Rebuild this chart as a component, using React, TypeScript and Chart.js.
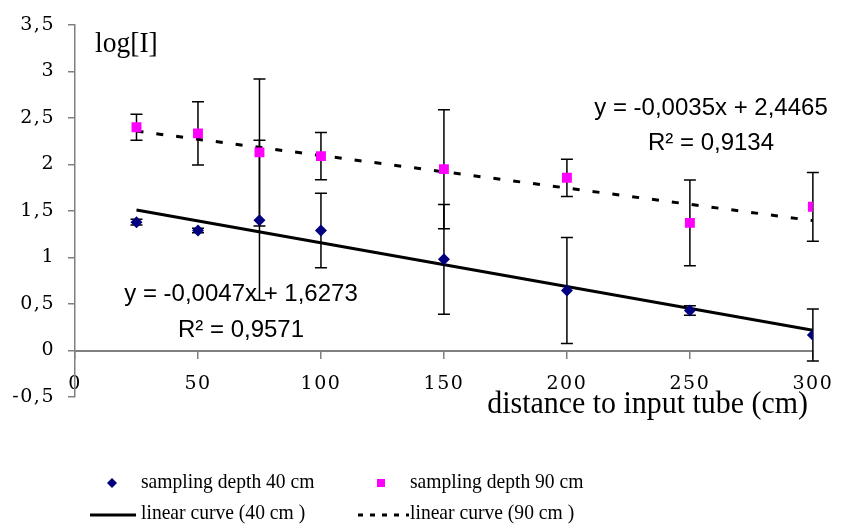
import React, { useEffect, useRef } from "react";
import { Chart, registerables } from "chart.js";

Chart.register(...registerables);

// ---- data ----
const xValues = [25, 50, 75, 100, 150, 200, 250, 300];
const depth40 = [1.38, 1.29, 1.4, 1.29, 0.98, 0.645, 0.43, 0.167];
const err40 = [0.03, 0.025, 0.86, 0.4, 0.59, 0.57, 0.05, 0.28];
const depth90 = [2.4, 2.335, 2.13, 2.09, 1.95, 1.857, 1.372, 1.545];
const err90 = [0.14, 0.34, 0.79, 0.255, 0.64, 0.2, 0.46, 0.37];
const trendX = [25, 300];
const trend40 = [1.5098, 0.2173];
const trend90 = [2.359, 1.3965];
const yTickLabels = ["-0,5", "0", "0,5", "1", "1,5", "2", "2,5", "3", "3,5"];
const xTickLabels = ["0", "50", "100", "150", "200", "250", "300"];
const eq40 = "y = -0,0047x + 1,6273";
const r40 = "R\u00B2 = 0,9571";
const eq90 = "y = -0,0035x + 2,4465";
const r90 = "R\u00B2 = 0,9134";
const legendLabels = [
  "sampling depth 40 cm",
  "sampling depth 90 cm",
  "linear curve (40 cm )",
  "linear curve (90 cm )",
];
const yTitle = "log[I]";
const xTitle = "distance to input tube (cm)";

const NAVY = "#000080";
const MAGENTA = "#FF00FF";
const SERIF = "'Liberation Serif', 'Times New Roman', serif";
const TICKFONT = "'DejaVu Serif', serif";
const SANS = "'Liberation Sans', Arial, sans-serif";

function narrowText(ctx: any, text: string, x: number, y: number, sx: number, align: string) {
  ctx.save();
  ctx.translate(x, y);
  ctx.scale(sx, 1);
  ctx.textAlign = align;
  ctx.fillText(text, 0, 0);
  ctx.restore();
}

export default function App() {
  const ref = useRef<HTMLCanvasElement>(null);

  useEffect(() => {
    document.body.style.margin = "0";
    const canvas = ref.current;
    if (!canvas) return;

    const errorSets = [
      { values: depth40, errors: err40 },
      { values: depth90, errors: err90 },
    ];

    const spacingPlugin = {
      id: "tickSpacing",
      beforeDraw(chart: any) {
        (chart.ctx as any).letterSpacing = "1.5px";
      },
      beforeDatasetsDraw(chart: any) {
        (chart.ctx as any).letterSpacing = "0px";
      },
    };

    const errorBarPlugin = {
      id: "errorBars",
      beforeDatasetsDraw(chart: any) {
        const { ctx } = chart;
        const x = chart.scales.x;
        const y = chart.scales.y;
        ctx.save();
        ctx.strokeStyle = "#000";
        ctx.lineWidth = 1.5;
        errorSets.forEach(({ values, errors }) => {
          xValues.forEach((xv, i) => {
            const px = x.getPixelForValue(xv);
            const top = y.getPixelForValue(values[i] + errors[i]);
            const bot = y.getPixelForValue(values[i] - errors[i]);
            ctx.beginPath();
            ctx.moveTo(px, top);
            ctx.lineTo(px, bot);
            ctx.moveTo(px - 6, top);
            ctx.lineTo(px + 6, top);
            ctx.moveTo(px - 6, bot);
            ctx.lineTo(px + 6, bot);
            ctx.stroke();
          });
        });
        ctx.restore();
      },
    };

    const textPlugin = {
      id: "texts",
      afterDraw(chart: any) {
        const { ctx } = chart;
        ctx.save();
        (ctx as any).letterSpacing = "0px";
        ctx.fillStyle = "#000";
        ctx.textBaseline = "alphabetic";
        // y title
        ctx.font = `29px ${SERIF}`;
        narrowText(ctx, yTitle, 95, 52, 0.95, "left");
        // x title
        ctx.font = `32px ${SERIF}`;
        narrowText(ctx, xTitle, 808, 413, 0.935, "right");
        // equations
        ctx.font = `24px ${SANS}`;
        ctx.textAlign = "center";
        ctx.fillText(eq90, 711, 115);
        ctx.fillText(r90, 711, 150);
        ctx.fillText(eq40, 241, 301);
        ctx.fillText(r40, 241, 337);

        // legend
        ctx.font = `22px ${SERIF}`;
        narrowText(ctx, legendLabels[0], 141, 488, 0.89, "left");
        narrowText(ctx, legendLabels[1], 410, 488, 0.89, "left");
        narrowText(ctx, legendLabels[2], 141, 519, 0.89, "left");
        narrowText(ctx, legendLabels[3], 410, 519, 0.89, "left");
        // diamond
        ctx.fillStyle = NAVY;
        ctx.beginPath();
        ctx.moveTo(112, 478);
        ctx.lineTo(117, 483);
        ctx.lineTo(112, 488);
        ctx.lineTo(107, 483);
        ctx.closePath();
        ctx.fill();
        // square
        ctx.fillStyle = MAGENTA;
        ctx.fillRect(377, 479, 8, 8);
        // solid line
        ctx.strokeStyle = "#000";
        ctx.lineWidth = 3;
        ctx.beginPath();
        ctx.moveTo(90, 515);
        ctx.lineTo(136, 515);
        ctx.stroke();
        // dashed line
        ctx.setLineDash([5, 7]);
        ctx.beginPath();
        ctx.moveTo(358, 515);
        ctx.lineTo(409, 515);
        ctx.stroke();
        ctx.restore();
      },
    };

    const chart = new Chart(canvas, {
      type: "scatter",
      data: {
        datasets: [
          {
            label: legendLabels[0],
            data: xValues.map((x, i) => ({ x, y: depth40[i] })),
            pointStyle: "rectRot",
            pointRadius: 6,
            backgroundColor: NAVY,
            borderColor: NAVY,
            borderWidth: 0,
            showLine: false,
            order: 0,
          },
          {
            label: legendLabels[1],
            data: xValues.map((x, i) => ({ x, y: depth90[i] })),
            pointStyle: "rect",
            pointRadius: 7,
            backgroundColor: MAGENTA,
            borderColor: MAGENTA,
            borderWidth: 0,
            showLine: false,
            order: 0,
          },
          {
            label: legendLabels[2],
            data: trendX.map((x, i) => ({ x, y: trend40[i] })),
            showLine: true,
            pointRadius: 0,
            borderColor: "#000",
            borderWidth: 3,
            order: 1,
          },
          {
            label: legendLabels[3],
            data: trendX.map((x, i) => ({ x, y: trend90[i] })),
            showLine: true,
            pointRadius: 0,
            borderColor: "#000",
            borderWidth: 3,
            borderDash: [7, 13],
            borderCapStyle: "butt",
            order: 1,
          },
        ],
      },
      options: {
        responsive: false,
        animation: false,
        layout: { padding: { left: 0, top: 25, right: 23, bottom: 127 } },
        plugins: {
          legend: { display: false },
          tooltip: { enabled: false },
          title: { display: false },
        },
        scales: {
          x: {
            type: "linear",
            min: 0,
            max: 300,
            position: { y: 0 } as any,
            afterFit: (s: any) => {
              s.height = 0;
            },
            ticks: {
              stepSize: 50,
              padding: 15,
              color: "#000",
              font: { family: TICKFONT, size: 19 },
              callback: (_v: any, i: number) => xTickLabels[i],
              maxRotation: 0,
              autoSkip: false,
            },
            grid: {
              display: true,
              drawOnChartArea: false,
              drawTicks: true,
              tickLength: 7,
              color: "#808080",
              lineWidth: 1.5,
            },
            border: { display: true, color: "#808080", width: 2 },
          },
          y: {
            type: "linear",
            min: -0.5,
            max: 3.5,
            position: "left",
            afterFit: (s: any) => {
              s.width = 75;
            },
            ticks: {
              stepSize: 0.5,
              padding: 13,
              color: "#000",
              font: { family: TICKFONT, size: 19 },
              callback: (_v: any, i: number) => yTickLabels[i],
              autoSkip: false,
            },
            grid: {
              display: true,
              drawOnChartArea: false,
              drawTicks: true,
              tickLength: 7,
              color: "#808080",
              lineWidth: 1.5,
            },
            border: { display: true, color: "#808080", width: 1.5 },
          },
        },
      },
      plugins: [spacingPlugin, errorBarPlugin, textPlugin],
    });

    return () => {
      chart.destroy();
    };
  }, []);

  return <canvas ref={ref} width={846} height={524} style={{ display: "block" }} />;
}
